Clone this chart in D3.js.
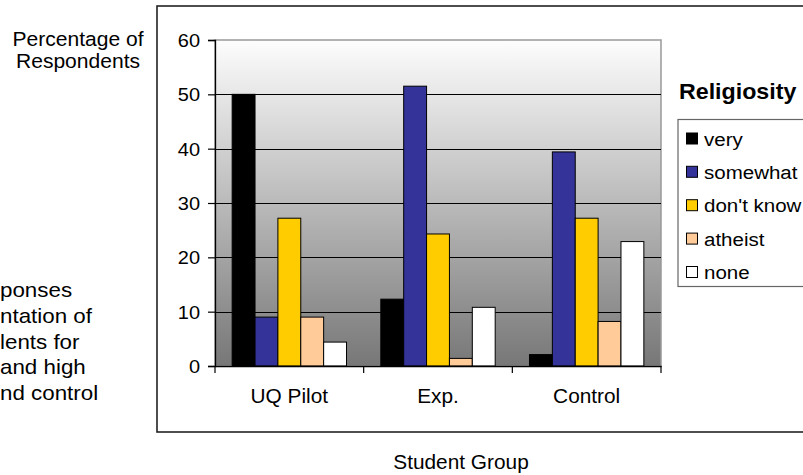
<!DOCTYPE html>
<html>
<head>
<meta charset="utf-8">
<script src="https://cdn.jsdelivr.net/npm/d3@7"></script>
<style>
  html, body { margin: 0; padding: 0; background: #fff; overflow: hidden; }
  svg { display: block; font-family: "Liberation Sans", Arial, sans-serif; }
</style>
</head>
<body>
<svg id="chart" width="803" height="475"></svg>
<script>
// Student groups and religiosity categories
const groups = ["UQ Pilot", "Exp.", "Control"];
const seriesNames = ["very", "somewhat", "don't know", "atheist", "none"];
const seriesColors = ["#000000", "#333399", "#FFCC00", "#FFCC99", "#FFFFFF"];

// Percentage of respondents per category, one array per series (UQ Pilot, Exp., Control)
const very = [50.0, 12.3, 2.1];
const somewhat = [9.0, 51.5, 39.4];
const dontKnow = [27.2, 24.3, 27.2];
const atheist = [9.0, 1.4, 8.2];
const none = [4.4, 10.8, 22.9];
const seriesValues = [very, somewhat, dontKnow, atheist, none];

const yTicks = [0, 10, 20, 30, 40, 50, 60];
const yTitle = ["Percentage of", "Respondents"];
const xTitle = "Student Group";
const legendTitle = "Religiosity";
const captionLines = ["ponses", "ntation of", "lents for", "and high", "nd control"];

const svg = d3.select("#chart");
const SX = 1.08; // text is drawn slightly wide

function txt(sel, x, y, s, size, anchor, weight) {
  return sel.append("text")
    .attr("transform", `translate(${x},${y}) scale(${SX},1)`)
    .attr("text-anchor", anchor || "start")
    .attr("font-size", size)
    .attr("font-weight", weight || "normal")
    .attr("fill", "#000")
    .text(s);
}

// Outer chart frame (right side runs past the page edge)
svg.append("rect")
  .attr("x", 157).attr("y", 6)
  .attr("width", 700).attr("height", 426)
  .attr("fill", "#fff").attr("stroke", "#222").attr("stroke-width", 1.6);

// Plot area
const plot = { left: 215, right: 661, top: 40, bottom: 366 };

const y = d3.scaleLinear().domain([0, 60]).range([plot.bottom, plot.top]);
const x0 = d3.scaleBand().domain(groups).range([plot.left, plot.right]).padding(0);
const bw = x0.bandwidth();
const gap = bw * 1.5 / 6.5;
const x1 = d3.scaleBand().domain(seriesNames).range([gap / 2, bw - gap / 2]).padding(0);

const defs = svg.append("defs");
const grad = defs.append("linearGradient").attr("id", "bg")
  .attr("x1", 0).attr("y1", 0).attr("x2", 0).attr("y2", 1);
grad.append("stop").attr("offset", "0%").attr("stop-color", "#fdfdfd");
grad.append("stop").attr("offset", "100%").attr("stop-color", "#777777");

svg.append("rect")
  .attr("x", plot.left).attr("y", plot.top)
  .attr("width", plot.right - plot.left).attr("height", plot.bottom - plot.top)
  .attr("fill", "url(#bg)")
  .attr("stroke", "#999").attr("stroke-width", 1.5);

// Gridlines
svg.append("g").selectAll("line")
  .data(yTicks.filter(t => t > 0 && t < 60))
  .join("line")
  .attr("x1", plot.left).attr("x2", plot.right)
  .attr("y1", d => Math.round(y(d)) + 0.5).attr("y2", d => Math.round(y(d)) + 0.5)
  .attr("stroke", "#000").attr("stroke-width", 1);

// Bars
const barData = [];
groups.forEach((g, gi) => {
  seriesNames.forEach((s, si) => {
    barData.push({ group: g, series: s, color: seriesColors[si], value: seriesValues[si][gi] });
  });
});
svg.append("g").selectAll("rect")
  .data(barData)
  .join("rect")
  .attr("x", d => x0(d.group) + x1(d.series))
  .attr("y", d => y(d.value))
  .attr("width", x1.bandwidth())
  .attr("height", d => y(0) - y(d.value))
  .attr("fill", d => d.color)
  .attr("stroke", "#000").attr("stroke-width", 1);

// Y axis
const yAxis = svg.append("g").attr("transform", `translate(${plot.left},0)`)
  .call(d3.axisLeft(y).tickValues(yTicks).tickSize(7).tickPadding(8).tickFormat(d3.format("d")));
yAxis.select(".domain").attr("stroke", "#000").attr("stroke-width", 1.3);
yAxis.selectAll(".tick line").attr("stroke", "#000").attr("stroke-width", 1.2);
yAxis.selectAll(".tick text").remove();
yTicks.forEach(t => txt(svg, 200, y(t) + 7, String(t), 18.5, "end"));

// X axis
const xAxis = svg.append("g").attr("transform", `translate(0,${plot.bottom})`)
  .call(d3.axisBottom(x0).tickSize(0).tickFormat(""));
xAxis.select(".domain").attr("stroke", "#000").attr("stroke-width", 1.3);
svg.append("g").selectAll("line")
  .data([plot.left, x0("Exp."), x0("Control"), plot.right])
  .join("line")
  .attr("x1", d => d).attr("x2", d => d)
  .attr("y1", plot.bottom).attr("y2", plot.bottom + 7)
  .attr("stroke", "#000").attr("stroke-width", 1.2);
groups.forEach(g => txt(svg, x0(g) + bw / 2, 403, g, 19.3, "middle"));

// Axis titles
txt(svg, 78, 45.5, yTitle[0], 19.5, "middle");
txt(svg, 78, 67.5, yTitle[1], 19.5, "middle");
txt(svg, 461, 469, xTitle, 19.3, "middle");

// Legend
txt(svg, 679, 98.5, legendTitle, 21.5, "start", "bold");
svg.append("rect")
  .attr("x", 678).attr("y", 119.5).attr("width", 200).attr("height", 167)
  .attr("fill", "#fff").attr("stroke", "#666").attr("stroke-width", 1.2);
const legendY = [138.5, 171.8, 205.2, 238.6, 272];
seriesNames.forEach((s, i) => {
  svg.append("rect")
    .attr("x", 686.5).attr("y", legendY[i] - 5.5).attr("width", 11).attr("height", 11)
    .attr("fill", seriesColors[i]).attr("stroke", "#000").attr("stroke-width", 1);
  txt(svg, 704, legendY[i] + 7, s, 19, "start");
});

// Caption text at the left
captionLines.forEach((s, i) => txt(svg, 0, 297 + i * 25.8, s, 20.7, "start"));
</script>
</body>
</html>
